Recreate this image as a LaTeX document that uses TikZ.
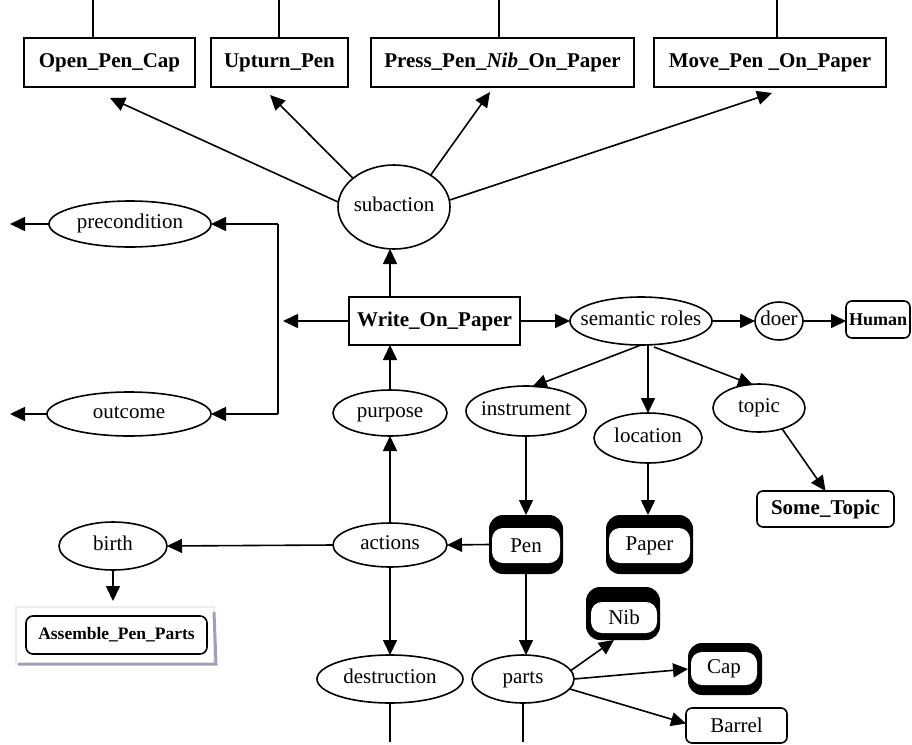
\documentclass[tikz,border=0pt]{standalone}
\usepackage{fontspec}
\setmainfont{Liberation Serif}
\usetikzlibrary{arrows.meta,calc,shapes.geometric}
\definecolor{lav}{RGB}{165,158,185}
\begin{document}
\begin{tikzpicture}[x=1pt,y=-1pt,
  every node/.style={inner sep=0pt, outer sep=0pt},
  lw/.style={line width=1.6pt},
  arr/.style={line width=1.6pt, -{Triangle[length=15pt,width=14pt]}},
  lbl/.style={font=\fontsize{21}{24}\selectfont, text height=14pt, text depth=4.5pt},
  ell/.style={draw, ellipse, line width=1.6pt, label={[lbl]center:#1}},
  bx/.style={draw, rectangle, line width=1.6pt, font=\bfseries\fontsize{21}{24}\selectfont},
  rbx/.style={draw, rounded corners=6pt, line width=1.6pt},
  thk/.style={fill=black, rounded corners=14pt},
  thkin/.style={fill=white, rounded corners=11pt, font=\fontsize{21}{24}\selectfont}
]
\useasboundingbox (0,0) rectangle (912,744);

% top action boxes
\node[bx, minimum width=171pt, minimum height=49pt] (opc) at (109.5,62.5) {Open\_Pen\_Cap};
\node[bx, minimum width=137pt, minimum height=49pt] (upt) at (279.5,62.5) {Upturn\_Pen};
\node[bx, minimum width=263pt, minimum height=49pt] (prs) at (502.5,62.5) {Press\_Pen\_\textit{Nib}\_On\_Paper};
\node[bx, minimum width=232pt, minimum height=49pt] (mov) at (770,62.5) {Move\_Pen \_On\_Paper};
\coordinate (t1) at (93,0);
\coordinate (t2) at (279,0);
\coordinate (t3) at (499,0);
\coordinate (t4) at (777,0);
\draw[lw] (t1) -- (t1 |- opc.north);
\draw[lw] (t2) -- (t2 |- upt.north);
\draw[lw] (t3) -- (t3 |- prs.north);
\draw[lw] (t4) -- (t4 |- mov.north);

% ellipses
\node[ell={subaction}, minimum width=112pt, minimum height=84pt] (sub) at (394,207) {};
\node[ell={precondition}, minimum width=162pt, minimum height=46pt] (pre) at (130,224) {};
\node[ell={outcome}, minimum width=164pt, minimum height=44pt] (out) at (129,414) {};
\node[ell={purpose}, minimum width=114pt, minimum height=46pt] (purp) at (390,413) {};
\node[ell={semantic roles}, minimum width=142pt, minimum height=48pt] (sem) at (641,321) {};
\node[ell={doer}, minimum width=48pt, minimum height=38pt] (doer) at (779,321) {};
\node[ell={instrument}, minimum width=120pt, minimum height=50pt] (instr) at (526,411) {};
\node[ell={location}, minimum width=108pt, minimum height=50pt] (loc) at (648,438) {};
\node[ell={topic}, minimum width=92pt, minimum height=48pt] (topic) at (759,408) {};
\node[ell={actions}, minimum width=114pt, minimum height=44pt] (act) at (390,545) {};
\node[ell={birth}, minimum width=108pt, minimum height=48pt] (birth) at (113,546) {};
\node[ell={destruction}, minimum width=146pt, minimum height=48pt] (dest) at (390,679) {};
\node[ell={parts}, minimum width=102pt, minimum height=48pt] (parts) at (523,679) {};

% boxes
\node[bx, minimum width=171pt, minimum height=48pt] (write) at (434.5,321) {Write\_On\_Paper};
\node[rbx, font=\bfseries\fontsize{18}{20}\selectfont, minimum width=64pt, minimum height=37pt] (hum) at (878,319.5) {Human};
\node[rbx, font=\bfseries\fontsize{21}{24}\selectfont, minimum width=137pt, minimum height=36pt] (stc) at (825.5,509) {Some\_Topic};
\node[rbx, font=\fontsize{21}{24}\selectfont, minimum width=101pt, minimum height=35pt] (bar) at (736.5,725.5) {Barrel};

% assemble with frame
\node[minimum width=198pt, minimum height=57pt] (asmf) at (115,635.5) {};
\draw[gray!15, line width=2pt] (asmf.north west) rectangle (asmf.south east);
\draw[lav, line width=3pt] ([xshift=2pt]asmf.south west) -- ([xshift=2pt]asmf.south east) -- ([yshift=-5pt]asmf.north east);
\node[rbx, rounded corners=7pt, font=\bfseries\fontsize{17.5}{20}\selectfont, minimum width=181pt, minimum height=38pt] (asm) at (116.5,635) {Assemble\_Pen\_Parts};

% thick boxes
\node[thk, minimum width=74pt, minimum height=59pt] (pen) at (526,544.5) {};
\node[thkin, minimum width=68pt, minimum height=35pt] (pentx) at (526,545.5) {Pen};
\node[thk, minimum width=87pt, minimum height=59pt] (paper) at (649.5,544.5) {};
\node[thkin, minimum width=81pt, minimum height=35pt] (papertx) at (649.5,545.5) {Paper};
\node[thk, minimum width=74pt, minimum height=53pt] (nib) at (623,613.5) {};
\node[thkin, minimum width=66pt, minimum height=31pt] (nibtx) at (624,617.5) {Nib};
\node[thk, minimum width=74pt, minimum height=52pt] (cap) at (725,669) {};
\node[thkin, minimum width=66pt, minimum height=33pt] (captx) at (724,668.5) {Cap};

% subaction arrows
\draw[arr] (sub.175) -- ($(opc.south)+(0.5,11)$);
\draw[arr] (sub.145) -- ($(upt.south)+(-9.5,8)$);
\draw[arr] (sub.41) -- ($(prs.south)+(-12.5,5)$);
\draw[arr] (sub.7) -- ($(mov.south)+(2,6)$);

% write on paper
\draw[arr] (write.north -| purp.north) -- (sub.south -| purp.north);
\draw[arr] (purp.north) -- (purp.north |- write.south);
\coordinate (jn) at (278,321);
\draw[arr] (write.west) -- ($(jn)+(5,0)$);
\draw[lw] (jn |- pre.east) -- (jn |- out.east);
\draw[arr] (jn |- pre.east) -- (pre.east);
\draw[arr] (jn |- out.east) -- (out.east);
\coordinate (preL) at (10,224);
\coordinate (outL) at (10,414);
\draw[arr] (pre.west) -- (preL);
\draw[arr] (out.west) -- (outL);

% semantic roles
\draw[arr] (write.east) -- (sem.west);
\draw[arr] (sem.east) -- (doer.west);
\draw[arr] (doer.east) -- (doer.east -| hum.west);
\draw[arr] (sem.south) -- ($(instr.north)+(6,1)$);
\draw[arr] (sem.south -| loc.north) -- (loc.north);
\draw[arr] ($(sem.south)+(13,2)$) -- ($(topic.north)+(-6,1)$);
\draw[arr] (instr.south) -- (pen.north);
\draw[arr] (loc.south) -- (loc.south |- paper.north);
\draw[arr] (topic.-42) -- (stc.north);

% actions
\draw[arr] (pen.west) -- (act.east);
\draw[arr] (pen.south) -- (pen.south |- parts.north);
\draw[arr] (act.west) -- (birth.east);
\draw[arr] (birth.south) -- ($(birth.south |- asmf.north)+(0,-6)$);
\draw[arr] (act.north) -- (purp.south);
\draw[arr] (act.south) -- (dest.north);

% parts
\draw[arr] (parts.10) -- ($(nib.south)+(-9,0)$);
\draw[arr] (parts.east) -- (cap.west);
\draw[arr] (parts.-12) -- ($(bar.west)+(0,-2)$);
\coordinate (b1) at (390,742);
\coordinate (b2) at (523,742);
\draw[lw] (dest.south) -- (b1);
\draw[lw] (parts.south) -- (b2);
\end{tikzpicture}
\end{document}
